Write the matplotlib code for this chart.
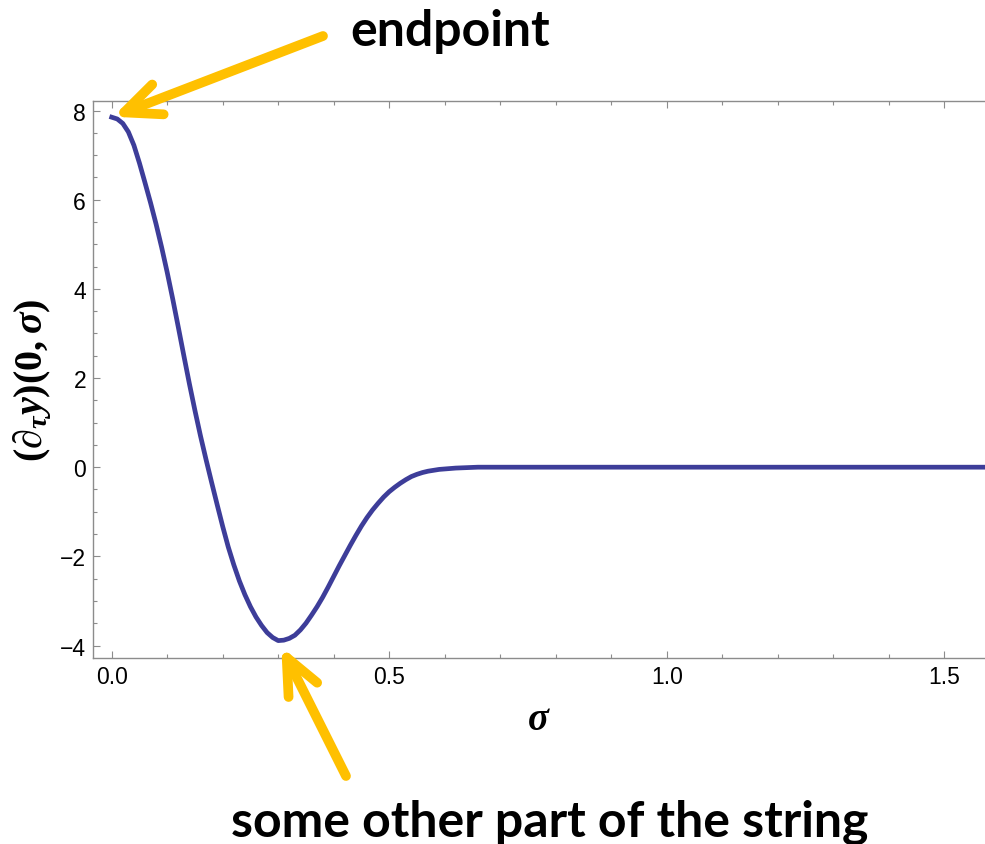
import numpy as np
import matplotlib
matplotlib.use("Agg")
import matplotlib.pyplot as plt
from matplotlib.ticker import MultipleLocator

# values
sigma = [0.00, 0.01, 0.02, 0.03, 0.04, 0.05, 0.06, 0.07, 0.08, 0.09,
         0.10, 0.11, 0.12, 0.13, 0.14, 0.15, 0.16, 0.17, 0.18, 0.19,
         0.20, 0.21, 0.22, 0.23, 0.24, 0.25, 0.26, 0.27, 0.28, 0.29,
         0.30, 0.31, 0.32, 0.33, 0.34, 0.35, 0.36, 0.37, 0.38, 0.39,
         0.40, 0.41, 0.42, 0.43, 0.44, 0.45, 0.46, 0.47, 0.48, 0.49,
         0.50, 0.51, 0.52, 0.53, 0.54, 0.55, 0.56, 0.57, 0.59, 0.62,
         0.66, 0.80, 1.00, 1.20, 1.40, 1.5708]
dtau_y = [7.85, 7.81, 7.71, 7.52, 7.22, 6.82, 6.38, 5.93, 5.45, 4.93,
          4.37, 3.77, 3.14, 2.50, 1.87, 1.27, 0.70, 0.17, -0.34, -0.84,
          -1.33, -1.79, -2.19, -2.55, -2.86, -3.13, -3.36, -3.55, -3.71, -3.82,
          -3.89, -3.88, -3.84, -3.77, -3.65, -3.50, -3.32, -3.13, -2.92, -2.69,
          -2.45, -2.21, -1.98, -1.75, -1.53, -1.32, -1.13, -0.96, -0.81, -0.67,
          -0.55, -0.45, -0.36, -0.28, -0.21, -0.16, -0.12, -0.09, -0.05, -0.02,
          0.0, 0.0, 0.0, 0.0, 0.0, 0.0]

xticks = [0.0, 0.5, 1.0, 1.5]
yticks = [-4, -2, 0, 2, 4, 6, 8]

plt.rcParams['mathtext.fontset'] = 'custom'
plt.rcParams['mathtext.rm'] = 'Liberation Serif:bold'
plt.rcParams['mathtext.bf'] = 'Liberation Serif:bold'
plt.rcParams['mathtext.it'] = 'Liberation Serif:italic:bold'

fig = plt.figure(figsize=(9.85, 8.45), dpi=100)
ax = fig.add_axes([93 / 985, 186 / 845, 892 / 985, 557.3 / 845])

ax.plot(sigma, dtau_y, color='#3d3d99', lw=3.4, solid_joinstyle='round')

ax.set_xlim(-0.0337, 1.5735)
ax.set_ylim(-4.28, 8.22)
ax.set_xticks(xticks)
ax.set_xticklabels(['%.1f' % t for t in xticks])
ax.set_yticks(yticks)
ax.set_yticklabels([str(t).replace('-', '\u2212') for t in yticks])
ax.xaxis.set_minor_locator(MultipleLocator(0.1))
ax.yaxis.set_minor_locator(MultipleLocator(0.5))

gray = '#8c8c8c'
for side in ['left', 'bottom', 'top']:
    ax.spines[side].set_color(gray)
    ax.spines[side].set_linewidth(1.0)
ax.spines['right'].set_visible(False)
ax.tick_params(which='both', direction='in', colors=gray, top=True, right=False,
               labelcolor='black', labelsize=16.5, width=0.8)
ax.tick_params(which='major', length=5)
ax.tick_params(which='minor', length=3)
ax.tick_params(axis='x', pad=5)
ax.tick_params(axis='y', pad=5)
for lab in ax.get_xticklabels() + ax.get_yticklabels():
    lab.set_family('Liberation Sans')

ax.set_xlabel(r'$\sigma$', fontsize=28, labelpad=8)
ax.set_ylabel(r'$(\partial_{\tau}y)(0,\sigma)$', fontsize=29, labelpad=5)

# annotations
fig.text(450 / 985, 1 - 32 / 845, 'endpoint', family='Lato', weight='bold',
         fontsize=36, ha='center', va='center')
fig.text(550 / 985, 1 - 822 / 845, 'some other part of the string', family='Lato',
         weight='bold', fontsize=36, ha='center', va='center')

arrow = dict(arrowstyle='->, head_length=2.6, head_width=1.15', color='#ffc000',
             lw=7, mutation_scale=10, shrinkA=0, capstyle='round', joinstyle='round')
ax.annotate('', xy=(sigma[0], dtau_y[0]), xytext=(323, 845 - 37),
            textcoords='figure pixels', arrowprops=dict(arrow, shrinkB=1))
imin = int(np.argmin(dtau_y))
ax.annotate('', xy=(sigma[imin], dtau_y[imin]), xytext=(346, 845 - 777),
            textcoords='figure pixels', arrowprops=dict(arrow, shrinkB=5))

fig.savefig('out.png', dpi=100)
